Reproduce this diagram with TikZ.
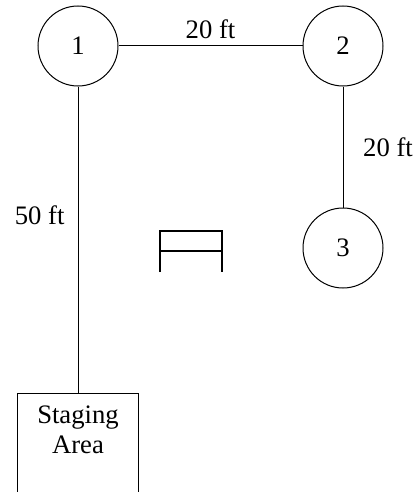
\documentclass[tikz,border=0pt]{standalone}
\usepackage{fontspec}
\setmainfont{Liberation Serif}
\usetikzlibrary{positioning}

\tikzset{
  station/.style={draw, circle, minimum size=60pt, inner sep=0pt, line width=0.75pt},
  stagebox/.style={draw, rectangle, minimum width=90.75pt, minimum height=84pt, inner sep=0pt, line width=0.75pt},
  dist/.style={inner sep=0.75pt}
}

\begin{document}
\begin{tikzpicture}[x=0.75pt,y=0.75pt,yscale=-1,xscale=1, font=\fontsize{20}{22.5}\selectfont, line width=0.75pt]
\useasboundingbox (0,0) rectangle (412,492);

% stations
\node [station] (c1) at (78,46) {1};
\node [station] (c2) at (343,46) {2};
\node [station] (c3) at (343,248) {3};

% staging area (runs off the bottom edge)
\node [stagebox, anchor=north] (stage) at (78,393) {};
\node [align=center, inner sep=0pt, anchor=north] (stagetxt) at (78,405) {Staging\\Area};

% walkways
\draw (c1) -- (c2) node [dist, midway, above=4pt] (d12) {20 ft};
\draw (c2) -- (c3) node [dist, midway, right=14pt] (d23) {20 ft};
\draw (c1.south -| stage.north) -- (stage.north) node [dist, pos=0.42, left=9pt] (d1s) {50 ft};

% table
\draw [line width=1.5pt] (160,272) -- (160,231) -- (222,231) -- (222,272);
\draw [line width=1.5pt] (160,251) -- (222,251);
\end{tikzpicture}
\end{document}
